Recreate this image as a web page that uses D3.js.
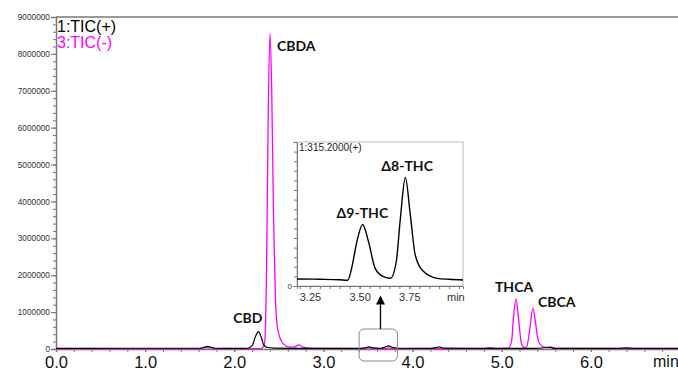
<!DOCTYPE html>
<meta charset="utf-8">
<head>
<style>
  body { margin: 0; background: #fff; }
  .axis text { font-family: "Liberation Sans", Arial, sans-serif; fill: #333; }
  .axis path, .axis line { stroke: #777; }
  .peak { font-family: Lato, "Open Sans", sans-serif; font-weight: bold; font-size: 14px; fill: #111; }
</style>
</head>
<body>
<svg id="chart"></svg>
<script src="https://d3js.org/d3.v7.min.js"></script>
<script>
// total ion current, positive mode (black)
var timesPos = [0.00, 0.80, 1.20, 1.60, 1.65, 1.70, 1.75, 1.80, 2.00, 2.15, 2.20, 2.24, 2.27, 2.30, 2.33, 2.37, 2.45, 2.80,
                3.40, 3.46, 3.51, 3.57, 3.64, 3.68, 3.73, 3.78, 3.85, 4.20, 4.26, 4.30, 4.35, 4.80, 5.40, 5.50, 5.55, 5.60,
                6.30, 6.40, 6.48, 7.00];
var ticPos = [15000, 20000, 20000, 20000, 40000, 70000, 40000, 20000, 15000, 20000, 90000, 350000, 470000, 340000, 110000, 40000, 25000, 15000,
              15000, 30000, 55000, 30000, 20000, 40000, 85000, 40000, 20000, 15000, 35000, 60000, 25000, 15000, 15000, 40000, 35000, 15000,
              15000, 30000, 15000, 15000];

// total ion current, negative mode (magenta)
var timesNeg = [0.00, 1.60, 1.70, 1.80, 2.30, 2.34, 2.36, 2.38, 2.40, 2.42, 2.44, 2.46, 2.48, 2.51, 2.55, 2.62, 2.68, 2.72, 2.77, 2.90,
                3.45, 3.50, 3.56, 3.68, 3.73, 3.78, 4.80, 4.87, 4.94, 5.07, 5.11, 5.13, 5.16, 5.19, 5.22, 5.25, 5.28, 5.31, 5.35,
                5.38, 5.41, 5.45, 5.50, 5.55, 5.60, 7.00];
var ticNeg = [5000, 5000, 40000, 5000, 10000, 150000, 1800000, 6200000, 8550000, 7000000, 3600000, 1500000, 650000, 320000, 140000, 50000, 60000, 110000, 50000, 15000,
              10000, 30000, 10000, 10000, 30000, 10000, 10000, 35000, 10000, 20000, 200000, 800000, 1360000, 800000, 160000, 40000, 60000, 450000, 1110000,
              700000, 220000, 80000, 40000, 60000, 15000, 10000];

// m/z 315.2 extracted trace for the inset
var timesSim = [3.185, 3.30, 3.40, 3.44, 3.46, 3.486, 3.515, 3.545, 3.578, 3.62, 3.655, 3.684, 3.705, 3.73, 3.755, 3.78, 3.822, 3.89, 3.95, 4.02];
var sim315 = [7.3, 7.0, 6.5, 6.0, 18.7, 46, 64, 46, 18.4, 9.7, 8.0, 25, 70.5, 113, 74, 32, 15, 8.0, 7.0, 6.3];

var peakNames = ["CBD", "CBDA", "THCA", "CBCA"];
var peakTimes = [2.27, 2.40, 5.16, 5.35];
var peakHeights = [470000, 8550000, 1360000, 1110000];

var simNames = ["\u03949-THC", "\u03948-THC"];
var simTimes = [3.515, 3.73];
var simHeights = [64, 113];

var yMajor = d3.range(0, 9000001, 1000000);
var yMinor = d3.range(0, 9000001, 200000);
var xMajor = [0, 1, 2, 3, 4, 5, 6];
var xMinor = d3.range(0, 7.01, 0.2);
var insetMajor = [3.25, 3.50, 3.75];
var insetMinor = d3.range(3.20, 4.01, 0.05);

var W = 678, H = 371;
var svg = d3.select("#chart").attr("width", W).attr("height", H);

var x = d3.scaleLinear().domain([0, 7]).range([56, 680]);
var y = d3.scaleLinear().domain([0, 9000000]).range([349, 17]);

// frame top line
svg.append("line").attr("x1", 56).attr("x2", W).attr("y1", 17).attr("y2", 17)
  .attr("stroke", "#777").attr("stroke-width", 1.5);

// y axis
svg.append("g").attr("class", "axis").attr("transform", "translate(56,0)")
  .call(d3.axisLeft(y).tickValues(yMinor).tickSize(3).tickFormat(""))
  .call(function(g) { g.select(".domain").remove(); });
var gy = svg.append("g").attr("class", "axis").attr("transform", "translate(56,0)")
  .call(d3.axisLeft(y).tickValues(yMajor).tickSize(5).tickPadding(1).tickFormat(d3.format("d")));
gy.selectAll("text").style("font-size", "8.3px");
gy.select(".domain").attr("stroke-width", 1.5);

// x axis
svg.append("g").attr("class", "axis").attr("transform", "translate(0,349)")
  .call(d3.axisBottom(x).tickValues(xMinor).tickSize(3).tickFormat(""))
  .call(function(g) { g.select(".domain").remove(); });
var gx = svg.append("g").attr("class", "axis").attr("transform", "translate(0,349)")
  .call(d3.axisBottom(x).tickValues(xMajor).tickSize(3).tickPadding(4).tickFormat(d3.format(".1f")));
gx.selectAll("text").style("font-size", "16.5px").style("fill", "#111");
gx.select(".domain").attr("stroke-width", 1.5);
svg.append("text").attr("x", 653).attr("y", 367)
  .style("font-family", "'Liberation Sans', Arial, sans-serif").style("font-size", "16px").style("fill", "#111")
  .text("min");

// traces
var line = d3.line().curve(d3.curveMonotoneX)
  .x(function(d) { return x(d[0]); })
  .y(function(d) { return y(d[1]); });

svg.append("path").datum(d3.zip(timesNeg, ticNeg))
  .attr("fill", "none").attr("stroke", "#ff00ff").attr("stroke-width", 1.3).attr("d", line);
svg.append("path").datum(d3.zip(timesPos, ticPos))
  .attr("fill", "none").attr("stroke", "#000").attr("stroke-width", 1.2).attr("d", line);

// legend
svg.append("text").attr("x", 57).attr("y", 32)
  .style("font-family", "'Liberation Sans', Arial, sans-serif").style("font-size", "16px").style("fill", "#000")
  .text("1:TIC(+)");
svg.append("text").attr("x", 57).attr("y", 48)
  .style("font-family", "'Liberation Sans', Arial, sans-serif").style("font-size", "16px").style("fill", "#ff00ff")
  .text("3:TIC(-)");

// peak labels
var labelOffsets = [[-25, -9], [7, 17], [-21, -7], [5, -1]];
svg.selectAll(".peak.main").data(peakNames).enter().append("text")
  .attr("class", "peak main")
  .attr("x", function(d, i) { return x(peakTimes[i]) + labelOffsets[i][0]; })
  .attr("y", function(d, i) { return y(peakHeights[i]) + labelOffsets[i][1]; })
  .text(function(d) { return d; });

// zoom box around the THC region
var boxT0 = 3.40, boxT1 = 3.83;
svg.append("rect")
  .attr("x", x(boxT0)).attr("y", y(0) - 20)
  .attr("width", x(boxT1) - x(boxT0)).attr("height", 32)
  .attr("rx", 5).attr("fill", "none").attr("stroke", "#888").attr("stroke-width", 1);

svg.append("defs").append("marker")
  .attr("id", "head").attr("viewBox", "0 0 10 10").attr("refX", 5).attr("refY", 5)
  .attr("markerWidth", 7).attr("markerHeight", 7).attr("orient", "auto")
  .append("path").attr("d", "M0,0 L10,5 L0,10 z").attr("fill", "#000");
svg.append("line")
  .attr("x1", x(3.64)).attr("x2", x(3.64))
  .attr("y1", y(0) - 20).attr("y2", 300)
  .attr("stroke", "#000").attr("stroke-width", 1.3).attr("marker-end", "url(#head)");

// inset
var ix = d3.scaleLinear().domain([3.185, 4.02]).range([297, 463]);
var iy = d3.scaleLinear().domain([0, 150]).range([286, 142]);

var inset = svg.append("g");
inset.append("rect").attr("x", 297).attr("y", 142).attr("width", 166).attr("height", 144)
  .attr("fill", "#fff").attr("stroke", "#bbb").attr("stroke-width", 1);

inset.append("g").attr("class", "axis").attr("transform", "translate(297,0)")
  .call(d3.axisLeft(iy).tickValues(d3.range(10, 151, 10)).tickSize(3).tickFormat(""))
  .call(function(g) { g.select(".domain").remove(); });
var igy = inset.append("g").attr("class", "axis").attr("transform", "translate(297,0)")
  .call(d3.axisLeft(iy).tickValues([0]).tickSize(4).tickPadding(1));
igy.selectAll("text").style("font-size", "8px");

inset.append("g").attr("class", "axis").attr("transform", "translate(0,286)")
  .call(d3.axisBottom(ix).tickValues(insetMinor).tickSize(3).tickFormat(""))
  .call(function(g) { g.select(".domain").remove(); });
var igx = inset.append("g").attr("class", "axis").attr("transform", "translate(0,286)")
  .call(d3.axisBottom(ix).tickValues(insetMajor).tickSize(3).tickPadding(4).tickFormat(d3.format(".2f")));
igx.selectAll("text").style("font-size", "11px");
inset.append("text").attr("x", 447).attr("y", 301)
  .style("font-family", "'Liberation Sans', Arial, sans-serif").style("font-size", "11px").style("fill", "#333")
  .text("min");

inset.append("text").attr("x", 299).attr("y", 151)
  .style("font-family", "'Liberation Sans', Arial, sans-serif").style("font-size", "10px").style("fill", "#222")
  .text("1:315.2000(+)");

var iline = d3.line().curve(d3.curveMonotoneX)
  .x(function(d) { return ix(d[0]); })
  .y(function(d) { return iy(d[1]); });
inset.append("path").datum(d3.zip(timesSim, sim315))
  .attr("fill", "none").attr("stroke", "#000").attr("stroke-width", 1.4).attr("d", iline);

var simOffsets = [[-26, -7], [-24, -7]];
inset.selectAll(".peak.sim").data(simNames).enter().append("text")
  .attr("class", "peak sim")
  .attr("x", function(d, i) { return ix(simTimes[i]) + simOffsets[i][0]; })
  .attr("y", function(d, i) { return iy(simHeights[i]) + simOffsets[i][1]; })
  .text(function(d) { return d; });
</script>
</body>
